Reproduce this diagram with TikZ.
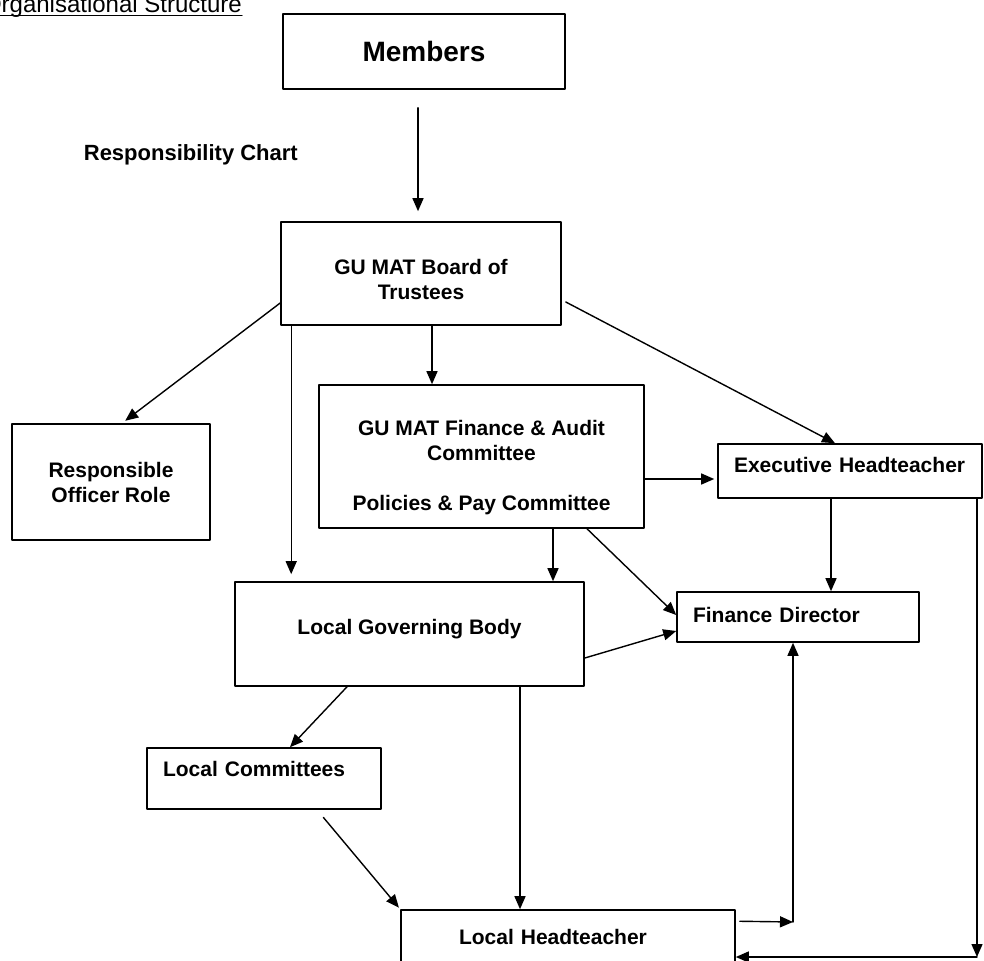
\documentclass[tikz,border=0pt]{standalone}
\usepackage{fontspec}
\setmainfont{Liberation Sans}
\usetikzlibrary{arrows.meta}

\begin{document}
\begin{tikzpicture}[x=1pt,y=-1pt,line cap=round,line join=round,
  >={Triangle[length=13pt,width=11pt]},
  box/.style={draw,line width=1.6pt,inner sep=0pt,font=\bfseries\fontsize{21}{25}\selectfont},
  lbox/.style={box,align=left,inner xsep=16pt,text height=15pt},
  arr/.style={->,line width=1.4pt}]
  \useasboundingbox (0,0) rectangle (984,960);
  \clip (0,0) rectangle (984,960);
  % headings
  \node[font=\fontsize{24}{28}\selectfont,anchor=base east,inner sep=0pt] (orgtitle) at (242,13) {Organisational Structure};
  \draw[line width=1.2pt] ([yshift=-2.5pt]orgtitle.base west) -- ([yshift=-2.5pt]orgtitle.base east);
  \node[font=\bfseries\fontsize{22}{26}\selectfont,anchor=east,inner sep=0pt] (chart) at (298,155) {Responsibility Chart};
  % boxes
  \node[box,minimum width=282pt,minimum height=75pt,font=\bfseries\fontsize{28}{32}\selectfont] (members) at (424,51.5) {Members};
  \node[box,align=center,minimum width=280pt,minimum height=103pt] (board) at (421,273.5) {\rule{0pt}{28pt}GU MAT Board of\\Trustees};
  \node[box,align=center,minimum width=198pt,minimum height=116pt] (respofficer) at (111,482) {Responsible\\Officer Role};
  \node[box,align=center,minimum width=325pt,minimum height=143pt] (finaudit) at (481.5,456.5) {\rule{0pt}{37pt}GU MAT Finance \& Audit\\Committee\\[25pt]Policies \& Pay Committee};
  \node[lbox,inner xsep=16pt,text width=232pt,minimum height=54pt,text depth=12pt] (exechead) at (850,471) {Executive Headteacher};
  \node[lbox,text width=210pt,minimum height=50pt,text depth=4pt] (findir) at (798,617) {Finance Director};
  \node[box,minimum width=349pt,minimum height=104pt,text height=15pt,text depth=14pt] (localgov) at (409.5,634) {Local Governing Body};
  \node[lbox,text width=202pt,minimum height=61pt,text depth=19pt] (localcom) at (264,778.5) {Local Committees};
  \node[lbox,inner xsep=58pt,text width=218pt,minimum height=80pt,text depth=26pt] (localhead) at (568,950) {Local Headteacher};
  \coordinate (fdlink) at (793,922);
  \coordinate (exlink) at (977,957);
  % connectors
  \draw[arr,shorten <=18pt,shorten >=10pt] ([xshift=-6pt]members.south) -- ([xshift=-3pt]board.north);
  \draw[arr,shorten >=4pt] ([yshift=-29.5pt]board.west) -- ([xshift=11pt]respofficer.north);
  \draw[arr,shorten >=7pt] ([xshift=11pt]board.south west) -- ([xshift=57pt]localgov.north west);
  \draw[arr] ([xshift=11pt]board.south) -- ([xshift=-49.5pt]finaudit.north);
  \draw[arr] ([xshift=4pt,yshift=-28.5pt]board.east) -- ([xshift=-15pt]exechead.north);
  \draw[arr,shorten >=3pt] ([yshift=-22.5pt]finaudit.east) -- ([yshift=-8pt]exechead.west);
  \draw[arr] ([xshift=-19pt]exechead.south) -- ([xshift=33pt]findir.north);
  \draw[arr] ([xshift=105.5pt]finaudit.south) -- ([yshift=2pt]findir.west);
  \draw[arr] ([xshift=71.5pt]finaudit.south) -- ([xshift=143.5pt]localgov.north);
  \draw[arr] ([yshift=-24pt]localgov.east) -- ([yshift=-14pt]findir.west);
  \draw[arr] ([xshift=-62.5pt]localgov.south) -- ([xshift=26pt]localcom.north);
  \draw[arr] ([xshift=110.5pt]localgov.south) -- ([xshift=-48pt]localhead.north);
  \draw[arr,shorten <=10pt,shorten >=2pt] ([xshift=53pt]localcom.south) -- (localhead.north west);
  \draw[arr,shorten <=4pt] ([yshift=-12pt]localhead.north east) -- (fdlink);
  \draw[arr] (fdlink) -- (fdlink |- findir.south);
  \draw[arr] (exlink |- exechead.south) -- (exlink);
  \draw[arr] (exlink) -- (exlink -| localhead.east);
\end{tikzpicture}
\end{document}
